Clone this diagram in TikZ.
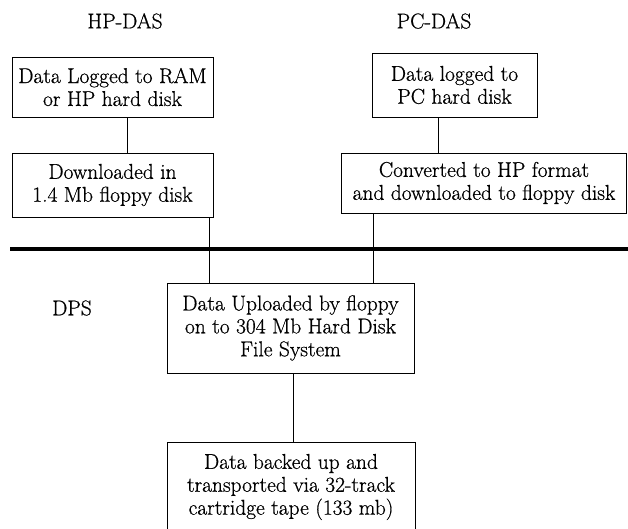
\documentclass[tikz,border=0pt]{standalone}
\usepackage{fontspec}
\newfontfamily\diagfont{Latin Modern Roman}[FakeBold=0.7]
\begin{document}
\begin{tikzpicture}[x=1bp,y=-1bp,
  box/.style={draw,line width=0.9bp,align=center,inner sep=0pt,font=\diagfont\fontsize{21.5}{23}\selectfont},
  lbl/.style={font=\diagfont\fontsize{21.5}{23}\selectfont,inner sep=0pt},
  conn/.style={line width=0.9bp}]
\useasboundingbox (0,0) rectangle (628,529);
\node[lbl] (hp) at (125,21) {HP-DAS};
\node[lbl] (pc) at (434,21) {PC-DAS};
\node[lbl] (dps) at (72,308) {DPS};
\node[box,minimum width=201bp,minimum height=60bp] (b1) at (112.5,87) {Data Logged to RAM\\or HP hard disk};
\node[box,minimum width=201bp,minimum height=64bp] (b2) at (112.5,185) {Downloaded in\\1.4 Mb floppy disk};
\node[box,minimum width=165bp,minimum height=64bp] (b3) at (454.5,85) {Data logged to\\PC hard disk};
\node[box,minimum width=285bp,minimum height=60bp] (b4) at (484,183) {Converted to HP format\\and downloaded to floppy disk};
\node[box,minimum width=247bp,minimum height=90bp] (b5) at (290.5,328) {Data Uploaded by floppy\\on to 304 Mb Hard Disk\\File System};
\node[box,minimum width=248bp,minimum height=90bp] (b6) at (291,487) {Data backed up and\\transported via 32-track\\cartridge tape (133 mb)};
\coordinate (x1) at (127,0);
\coordinate (x2) at (209,0);
\coordinate (x3) at (438,0);
\coordinate (x4) at (373,0);
\coordinate (x5) at (293,0);
\coordinate (barL) at (10,249);
\coordinate (barR) at (628,249);
\draw[line width=3.5bp] (barL) -- (barR);
\draw[conn] (b1.south -| x1) -- (b2.north -| x1);
\draw[conn] (b2.south -| x2) -- (b5.north -| x2);
\draw[conn] (b3.south -| x3) -- (b4.north -| x3);
\draw[conn] (b4.south -| x4) -- (b5.north -| x4);
\draw[conn] (b5.south -| x5) -- (b6.north -| x5);
\end{tikzpicture}
\end{document}
